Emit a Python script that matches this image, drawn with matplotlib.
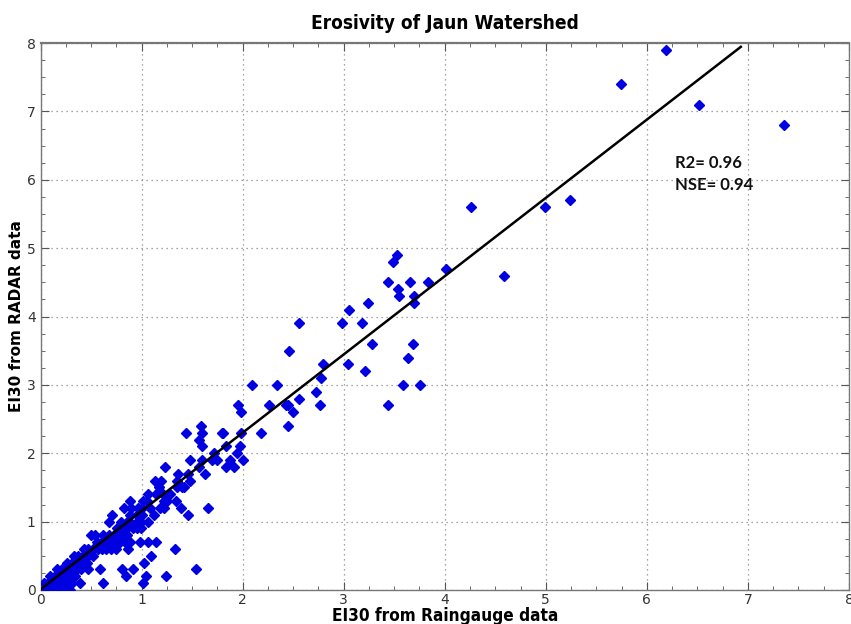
import matplotlib
matplotlib.use("Agg")
import matplotlib.pyplot as plt
from matplotlib.ticker import MultipleLocator

# --- data (x: raingauge EI30, y: RADAR EI30) ---
x_rain = [
    0.05, 0.08, 0.12, 0.17, 0.21, 0.25, 0.29,                               # y=0.0
    0.03, 0.07, 0.12, 0.17, 0.22, 0.27, 0.31, 0.39, 0.62, 1.01,             # y=0.1
    0.09, 0.14, 0.19, 0.24, 0.29, 0.34, 0.85, 1.04, 1.24,                   # y=0.2
    0.16, 0.21, 0.26, 0.31, 0.36, 0.40, 0.47, 0.59, 0.81, 0.92, 1.54,       # y=0.3
    0.26, 0.31, 0.36, 0.41, 0.46, 1.02,                                     # y=0.4
    0.33, 0.37, 0.42, 0.47, 0.52, 1.09,                                     # y=0.5
    0.43, 0.47, 0.52, 0.57, 0.61, 0.65, 0.70, 0.75, 0.87, 1.33,             # y=0.6
    0.56, 0.61, 0.65, 0.69, 0.74, 0.79, 0.84, 0.89, 0.98, 1.06, 1.14,       # y=0.7
    0.50, 0.54, 0.62, 0.68, 0.73, 0.78, 0.83, 0.86,                         # y=0.8
    0.76, 0.82, 0.86, 0.92, 0.95, 0.99,                                     # y=0.9
    0.68, 0.80, 0.86, 0.89, 0.95, 0.99, 1.06,                               # y=1.0
    0.71, 0.89, 0.95, 1.00, 1.12, 1.46,                                     # y=1.1
    0.83, 0.90, 0.96, 1.00, 1.08, 1.18, 1.22, 1.39, 1.66,                   # y=1.2
    0.89, 1.01, 1.05, 1.22, 1.25, 1.34,                                     # y=1.3
    1.06, 1.14, 1.21, 1.27, 1.28,                                           # y=1.4
    1.17, 1.35, 1.40, 1.42,                                                 # y=1.5
    1.13, 1.19, 1.35, 1.48,                                                 # y=1.6
    1.36, 1.46, 1.63,                                                       # y=1.7
    1.23, 1.57, 1.84, 1.91,                                                 # y=1.8
    1.48, 1.60, 1.70, 1.75, 1.88, 2.00,                                     # y=1.9
    1.72, 1.94,                                                             # y=2.0
    1.60, 1.84, 1.97,                                                       # y=2.1
    1.57,                                                                   # y=2.2
    1.44, 1.60, 1.80, 1.81, 1.98, 2.18,                                     # y=2.3
    1.59, 2.45,                                                             # y=2.4
    1.98, 2.50,                                                             # y=2.6
    1.95, 2.26, 2.43, 2.45, 2.77, 3.44,                                     # y=2.7
    2.56,                                                                   # y=2.8
    2.73,                                                                   # y=2.9
    2.09, 2.34, 3.59, 3.76,                                                 # y=3.0
    2.78,                                                                   # y=3.1
    3.21,                                                                   # y=3.2
    2.80, 3.04,                                                             # y=3.3
    3.64,                                                                   # y=3.4
    2.46,                                                                   # y=3.5
    3.28, 3.69,                                                             # y=3.6
    2.56, 2.98, 3.18,                                                       # y=3.9
    3.05,                                                                   # y=4.1
    3.24, 3.70,                                                             # y=4.2
    3.55, 3.70,                                                             # y=4.3
    3.54,                                                                   # y=4.4
    3.44, 3.66, 3.83,                                                       # y=4.5
    4.59,                                                                   # y=4.6
    4.01,                                                                   # y=4.7
    3.49,                                                                   # y=4.8
    3.53,                                                                   # y=4.9
    4.26, 4.99,                                                             # y=5.6
    5.24,                                                                   # y=5.7
    7.36,                                                                   # y=6.8
    6.52,                                                                   # y=7.1
    5.74,                                                                   # y=7.4
    6.19,                                                                   # y=7.9
]
y_radar = (
    [0.0] * 7 + [0.1] * 10 + [0.2] * 9 + [0.3] * 11 + [0.4] * 6 + [0.5] * 6
    + [0.6] * 10 + [0.7] * 11 + [0.8] * 8 + [0.9] * 6 + [1.0] * 7 + [1.1] * 6
    + [1.2] * 9 + [1.3] * 6 + [1.4] * 5 + [1.5] * 4 + [1.6] * 4 + [1.7] * 3
    + [1.8] * 4 + [1.9] * 6 + [2.0] * 2 + [2.1] * 3 + [2.2] * 1 + [2.3] * 6
    + [2.4] * 2 + [2.6] * 2 + [2.7] * 6 + [2.8] * 1 + [2.9] * 1 + [3.0] * 4
    + [3.1] * 1 + [3.2] * 1 + [3.3] * 2 + [3.4] * 1 + [3.5] * 1 + [3.6] * 2
    + [3.9] * 3 + [4.1] * 1 + [4.2] * 2 + [4.3] * 2 + [4.4] * 1 + [4.5] * 3
    + [4.6] * 1 + [4.7] * 1 + [4.8] * 1 + [4.9] * 1 + [5.6] * 2 + [5.7] * 1
    + [6.8] * 1 + [7.1] * 1 + [7.4] * 1 + [7.9] * 1
)

fit_slope = 1.145
fit_intercept = 0.01
fit_x = [0.0, 6.93]
fit_y = [fit_intercept + fit_slope * v for v in fit_x]

stats_text = "R2= 0.96\nNSE= 0.94"
title = "Erosivity of Jaun Watershed"
xlabel = "EI30 from Raingauge data"
ylabel = "EI30 from RADAR data"

fig = plt.figure(figsize=(8.51, 6.24), dpi=100)
ax = fig.add_axes([0.0476, 0.0545, 0.95, 0.8765])

ax.plot(x_rain, y_radar, linestyle="none", marker="D", markersize=4.8,
        color="#0000e0", markeredgecolor="#0000e0", markeredgewidth=1.0,
        zorder=3)
ax.plot(fit_x, fit_y, color="black", linewidth=1.8, zorder=4)

ax.set_xlim(0, 8)
ax.set_ylim(0, 8)
ax.xaxis.set_major_locator(MultipleLocator(1))
ax.yaxis.set_major_locator(MultipleLocator(1))
ax.xaxis.set_minor_locator(MultipleLocator(0.25))
ax.yaxis.set_minor_locator(MultipleLocator(0.25))
ax.tick_params(which="both", direction="in", top=True, right=True,
               colors="#555555", labelcolor="#333333")
ax.tick_params(which="major", length=6, labelsize=10)
ax.tick_params(which="minor", length=3)
ax.tick_params(axis="x", pad=2)
ax.grid(True, which="major", linestyle=(0, (1, 3)), color="#888888", linewidth=0.9)
for s in ax.spines.values():
    s.set_color("#777777")
    s.set_linewidth(1.0)
ax.spines["top"].set_linewidth(1.6)

ax.set_title(title, fontsize=13.7, fontweight="bold", pad=10,
             family="DejaVu Sans", fontstretch="condensed")
ax.set_xlabel(xlabel, fontsize=12.3, fontweight="bold", labelpad=0,
              family="DejaVu Sans", fontstretch="condensed")
ax.set_ylabel(ylabel, fontsize=11, fontweight="bold", labelpad=2)
ax.text(6.28, 6.36, stats_text, fontsize=12, fontweight="bold", family="Lato",
        va="top", ha="left", linespacing=1.45, color="#111111")

fig.savefig("out.png", dpi=100)
